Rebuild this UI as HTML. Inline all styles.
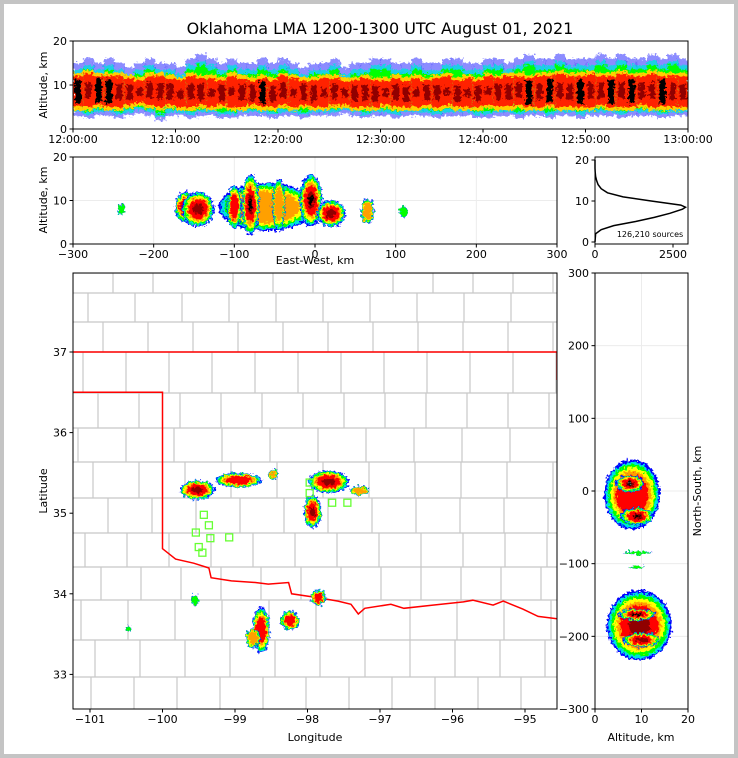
<!DOCTYPE html>
<html><head><meta charset="utf-8">
<style>
html,body{margin:0;padding:0;background:#fff;}
svg{display:block;font-family:"DejaVu Sans","Liberation Sans",sans-serif;}
</style></head>
<body>
<svg id="fig" width="738" height="758" viewBox="0 0 738 758" xmlns="http://www.w3.org/2000/svg">
<defs>
<filter id="grain" x="-20%" y="-20%" width="140%" height="140%">
<feTurbulence type="fractalNoise" baseFrequency="0.35" numOctaves="2" seed="3" result="n"/>
<feDisplacementMap in="SourceGraphic" in2="n" scale="7" xChannelSelector="R" yChannelSelector="G"/>
</filter>
</defs>
<rect x="0" y="0" width="738" height="758" fill="#c4c4c4"/>
<rect x="4" y="4" width="730" height="750" fill="#fff"/>
<text x="380" y="34" font-size="16" text-anchor="middle" fill="#000">Oklahoma LMA 1200-1300 UTC August 01, 2021</text>
<g id="gTop"></g>
<g id="gEW"></g>
<g id="gHist"></g>
<g id="gMap"></g>
<g id="gNS"></g>
</svg>
<script>
// ---------- DATA ----------
const timeTickLabels = ["12:00:00","12:10:00","12:20:00","12:30:00","12:40:00","12:50:00","13:00:00"];
const minuteLow  = [3,2.5,3,3,2.5,3,3.5,3,2,3,3,2.5,3,3,2.5,2.5,3,3,3,2.5,3,3,2.5,3,3,3,3.5,3,2.5,3,3,2.5,3,3,3,2.5,3,3,3,2.5,2.5,3,3,2.5,3,3,2.5,3,3,2.5,3,3,3,2.5,3,3,3,2.5,3,3];
const minuteHigh = [15,16,15,16,15,14,15,16,15,15,14,16,17,16,15,16,15,15,16,15,16,15,14,15,15,16,14,15,15,16,16,15,15,16,15,15,16,16,15,15,16,16,15,16,17,16,16,17,16,16,16,17,16,17,16,16,17,16,17,16];
const minuteCoreLow  = [5,5,5.5,5,5,5.5,6,5.5,5,5.5,5,5,5.5,5,5.5,5,5,5.5,5,5,5.5,5,5.5,5,5,5.5,5.5,5,5,5,5.5,5,5,5,5.5,5,5.5,5,5,5,5.5,5,5,5.5,5,5,5.5,5,5,5,5,5.5,5,5,5,5.5,5,5,5,5];
const minuteCoreHigh = [12,12.5,12,12,12,11.5,11,12,12,11.5,11,12,11.5,11.5,11,12,11.5,11,11.5,11,12,11.5,11,11,11.5,11.5,11,11,11.5,11,11,11.5,11,11.5,11,11.5,12,11,11.5,11,12,11.5,12,12,11.5,12,12,12.5,12,12,12.5,12,12,12.5,12,12,12.5,12,12,12];
const minuteIntensity = [3,2,3,3,2,2,1,2,2,2,1,2,2,1,2,1,2,2,3,2,2,1,2,2,1,2,1,2,2,2,1,2,2,1,2,2,1,2,1,2,1,2,2,2,3,2,3,2,2,3,2,2,3,2,3,2,2,3,2,2];

const ewCellX   = [-60,-160,-145,-100,-80,-45,-5,20,65,-240,110];
const ewCellZ   = [8.5,8.5,8,8.5,9,9,10,7,7.5,8,7.5];
const ewCellRX  = [60,14,20,9,11,8,14,18,8,4,5];
const ewCellRZ  = [5.5,3.5,4,5,7,6,6,3,3,1.3,1.5];
const ewCellLvl = [3,5,5,4,6,3,6,5,3,1,1];

const histAlt   = [0,2,3,4,5,6,7,8,8.5,9,10,11,12,13,14,15,16,17,18,20];
const histCount = [0,20,200,600,1300,1900,2400,2800,2900,2750,1800,900,400,200,100,50,20,5,0,0];
const histTotalLabel = "126,210 sources";

const lonTicks = [-101,-100,-99,-98,-97,-96,-95];
const latTicks = [37,36,35,34,33];
const cellLon = [-99.52,-98.95,-98.47,-97.71,-97.93,-97.28,-98.64,-98.24,-97.85,-99.55,-100.47,-98.75];
const cellLat = [35.29,35.41,35.48,35.39,35.02,35.28,33.55,33.67,33.95,33.92,33.57,33.45];
const cellRLon= [0.24,0.32,0.07,0.28,0.12,0.13,0.12,0.13,0.1,0.05,0.04,0.1];
const cellRLat= [0.12,0.09,0.06,0.14,0.2,0.06,0.28,0.12,0.1,0.07,0.04,0.12];
const cellLvl = [5,4,3,5,5,3,4,4,4,1,1,3];
const stationLon = [-99.43,-99.36,-99.54,-99.34,-99.08,-99.50,-99.45,-97.97,-97.97,-97.66,-97.45];
const stationLat = [34.98,34.85,34.76,34.69,34.70,34.58,34.51,35.38,35.25,35.13,35.13];
const borderLon = [-100,-99.82,-99.57,-99.36,-99.33,-99.05,-98.72,-98.54,-98.26,-98.22,-97.85,-97.58,-97.40,-97.30,-97.21,-96.85,-96.67,-96.27,-95.85,-95.72,-95.44,-95.30,-95.03,-94.82,-94.55];
const borderLat = [34.56,34.43,34.38,34.32,34.20,34.16,34.14,34.12,34.14,34.00,33.95,33.91,33.87,33.75,33.82,33.87,33.82,33.86,33.90,33.92,33.86,33.91,33.81,33.72,33.69];

const nsTicks = [300,200,100,0,-100,-200,-300];
const nsCellAlt = [8,7.5,9,9.5,9,10,9,9];
const nsCellNS  = [-5,10,-35,-185,-170,-205,-85,-105];
const nsCellRA  = [6,3,3.5,7,4,4,3,1.5];
const nsCellRN  = [48,12,12,48,8,10,2,2];
const nsCellLvl = [4,7,6,5,6,5,1,1];

// ---------- HELPERS ----------
const NS='http://www.w3.org/2000/svg';
function mk(tag,attrs,parent){const e=document.createElementNS(NS,tag);for(const k in attrs)e.setAttribute(k,attrs[k]);parent.appendChild(e);return e;}
function blob(g,cx,cy,rx,ry,lvl){
  const layers=[['#0000ff',1],['#00e0e0',0.94],['#00ff00',0.87],['#ffff00',0.78],['#ffa000',0.68],['#ff0000',0.58],['#900000',0.32],['#000000',0.2],['#a0a0a0',0.1]];
  const n=Math.min(layers.length,2+lvl);
  for(let i=0;i<n;i++){
    const el=mk('ellipse',{cx:cx,cy:cy,rx:Math.max(0.8,rx*layers[i][1]),ry:Math.max(0.8,ry*layers[i][1]),fill:layers[i][0]},g);
    
    
  }
}
function frame(g,x,y,w,h,name){
  const r=mk('rect',{x:x,y:y,width:w,height:h,fill:'none',stroke:'#000','stroke-width':1},g);
  
  
}
function txt(g,x,y,s,anchor,size,name,rot){
  const t=mk('text',{x:x,y:y,'font-size':size||11,'text-anchor':anchor||'middle',fill:'#000'},g);
  if(rot)t.setAttribute('transform','rotate(-90 '+x+' '+y+')');
  t.textContent=s;
  
  
  return t;
}
function line(g,x1,y1,x2,y2,stroke,w,name){
  const l=mk('line',{x1:x1,y1:y1,x2:x2,y2:y2,stroke:stroke,'stroke-width':w},g);
  
  
}

// ---------- TOP: time-height ----------
(function(){
  const g=document.getElementById('gTop');
  const X0=73,X1=688,Y0=41,Y1=129;
  const xs=i=>X0+(X1-X0)*i/60, ys=z=>Y1-(z/20)*(Y1-Y0);
  const cw=(X1-X0)/60;
  const clip=mk('clipPath',{id:'topclip'},g);mk('rect',{x:X0,y:Y0,width:X1-X0,height:Y1-Y0},clip);
  const outer=mk('g',{'clip-path':'url(#topclip)'},g);
  const dg=mk('g',{filter:'url(#grain)'},outer);
  for(let i=0;i<60;i++){
    const x=xs(i);
    const rows=[[minuteLow[i],minuteHigh[i],'#0000ff',0.45],[minuteLow[i]+0.8,minuteHigh[i]-1.5,'#00e0e0',0.8],[minuteLow[i]+1.5,minuteHigh[i]-2.5,'#00ff00',1],[minuteCoreLow[i]-0.8,minuteCoreHigh[i]+0.8,'#ffd000',1],[minuteCoreLow[i],minuteCoreHigh[i],'#ff2000',1]];
    rows.forEach(r=>{const e=mk('rect',{x:x,y:ys(r[1]),width:cw+0.3,height:ys(r[0])-ys(r[1]),fill:r[2],'fill-opacity':r[3]},dg);
      
      });
    const mid=(minuteCoreLow[i]+minuteCoreHigh[i])/2, hh=minuteIntensity[i]*0.9;
    const c=mk('rect',{x:x+cw*0.2,y:ys(mid+hh),width:cw*0.6,height:ys(mid-hh)-ys(mid+hh),fill:minuteIntensity[i]>2?'#000':'#900000'},dg);
    
    
  }
  frame(g,X0,Y0,X1-X0,Y1-Y0,'time-height-axes');
  [0,10,20].forEach(v=>{line(g,X0-3.5,ys(v),X0,ys(v),'#000',1,'y-tick');txt(g,X0-6,ys(v)+4,String(v),'end',11,'y-tick-label');});
  timeTickLabels.forEach((s,i)=>{const x=X0+(X1-X0)*i/(timeTickLabels.length-1);line(g,x,Y1,x,Y1+3.5,'#000',1,'x-tick');txt(g,x,Y1+14,s,'middle',11,'x-tick-label');});
  txt(g,47,85,'Altitude, km','middle',11,'y-axis-title',true);
})();

// ---------- MIDDLE: east-west ----------
(function(){
  const g=document.getElementById('gEW');
  const X0=73,X1=557,Y0=157,Y1=244;
  const xs=k=>X0+(k+300)/600*(X1-X0), ys=z=>Y1-(z/20)*(Y1-Y0);
  [-200,-100,0,100,200].forEach(v=>line(g,xs(v),Y0,xs(v),Y1,'#ececec',1,'grid-line'));
  line(g,X0,ys(10),X1,ys(10),'#ececec',1,'grid-line');
  const dg=mk('g',{filter:'url(#grain)'},g);
  ewCellX.forEach((_,i)=>blob(dg,xs(ewCellX[i]),ys(ewCellZ[i]),ewCellRX[i]*(X1-X0)/600,ewCellRZ[i]*(Y1-Y0)/20,ewCellLvl[i]));
  frame(g,X0,Y0,X1-X0,Y1-Y0,'east-west-axes');
  [0,10,20].forEach(v=>{line(g,X0-3.5,ys(v),X0,ys(v),'#000',1,'y-tick');txt(g,X0-6,ys(v)+4,String(v),'end',11,'y-tick-label');});
  [-300,-200,-100,0,100,200,300].forEach(v=>{line(g,xs(v),Y1,xs(v),Y1+3.5,'#000',1,'x-tick');txt(g,xs(v),Y1+14,String(v).replace('-','\u2212'),'middle',11,'x-tick-label');});
  txt(g,315,264,'East-West, km','middle',11,'x-axis-title');
  txt(g,47,200,'Altitude, km','middle',11,'y-axis-title',true);
})();

// ---------- HISTOGRAM ----------
(function(){
  const g=document.getElementById('gHist');
  const X0=595,X1=688,Y0=157,Y1=244;
  const xs=c=>X0+c/2500*78, ys=z=>242-z*4.1;
  let d='';histAlt.forEach((a,i)=>{d+=(i?'L':'M')+xs(histCount[i]).toFixed(1)+' '+ys(a).toFixed(1);});
  const p=mk('path',{d:d,fill:'none',stroke:'#000','stroke-width':1.5},g);
  
  
  frame(g,X0,Y0,X1-X0,Y1-Y0,'histogram-axes');
  [0,10,20].forEach(v=>{line(g,X0-3.5,ys(v),X0,ys(v),'#000',1,'y-tick');txt(g,X0-6,ys(v)+4,String(v),'end',11,'y-tick-label');});
  [0,2500].forEach(v=>{line(g,xs(v),Y1,xs(v),Y1+3.5,'#000',1,'x-tick');txt(g,xs(v),Y1+14,String(v),'middle',11,'x-tick-label');});
  txt(g,650,237,histTotalLabel,'middle',8,'source-count-label');
})();

// ---------- MAP ----------
(function(){
  const g=document.getElementById('gMap');
  const X0=73,X1=557,Y0=273,Y1=709;
  const xs=lon=>90+(lon+101)*72.5, ys=lat=>352+(37-lat)*80.6;
  const clip=mk('clipPath',{id:'mapclip'},g);mk('rect',{x:X0,y:Y0,width:X1-X0,height:Y1-Y0},clip);
  const cg=mk('g',{'clip-path':'url(#mapclip)'},g);
  
  
  const rowsY=[273,293,322,352,393,428,462,498,533,567,600,640,677,709];
  const offs=[0,15,30,10,25,5,20,35,12,28,8,22,18];
  for(let r=0;r<rowsY.length-1;r++){
    line(cg,X0,rowsY[r],X1,rowsY[r],'#c8c8c8',1.2,'county-line');
    for(let x=X0+offs[r];x<X1;x+=40+((r*7)%9)){line(cg,x,rowsY[r],x,rowsY[r+1],'#c8c8c8',1.2,'county-line');}
  }
  let d='M'+X0+' '+ys(36.5)+' L'+xs(-100)+' '+ys(36.5);
  borderLon.forEach((lo,i)=>{d+=' L'+xs(lo).toFixed(1)+' '+ys(borderLat[i]).toFixed(1);});
  const sb=mk('path',{d:d,fill:'none',stroke:'#ff0000','stroke-width':1.5},cg);
  
  
  const nb=mk('path',{d:'M'+X0+' '+ys(37)+' L'+X1+' '+ys(37)+' L'+X1+' '+(ys(37)+28),fill:'none',stroke:'#ff0000','stroke-width':1.5},cg);
  
  
  const dg=mk('g',{filter:'url(#grain)'},cg);
  cellLon.forEach((_,i)=>blob(dg,xs(cellLon[i]),ys(cellLat[i]),cellRLon[i]*72.5,cellRLat[i]*80.6,cellLvl[i]));
  stationLon.forEach((lo,i)=>{const s=mk('rect',{x:xs(lo)-3.5,y:ys(stationLat[i])-3.5,width:7,height:7,fill:'none',stroke:'#66ff33','stroke-width':1.3},cg);
    
    });
  frame(g,X0,Y0,X1-X0,Y1-Y0,'map-axes');
  latTicks.forEach(v=>{line(g,X0-3.5,ys(v),X0,ys(v),'#000',1,'y-tick');txt(g,X0-6,ys(v)+4,String(v),'end',11,'lat-tick-label');});
  lonTicks.forEach(v=>{line(g,xs(v),Y1,xs(v),Y1+3.5,'#000',1,'x-tick');txt(g,xs(v),Y1+14,String(v).replace('-','\u2212'),'middle',11,'lon-tick-label');});
  txt(g,315,741,'Longitude','middle',11,'x-axis-title');
  txt(g,47,491,'Latitude','middle',11,'y-axis-title',true);
})();

// ---------- NORTH-SOUTH ----------
(function(){
  const g=document.getElementById('gNS');
  const X0=595,X1=688,Y0=273,Y1=709;
  const xs=a=>X0+a/20*(X1-X0), ys=n=>491-n*0.7267;
  nsTicks.forEach(v=>line(g,X0,ys(v),X1,ys(v),'#ececec',1,'grid-line'));
  line(g,xs(10),Y0,xs(10),Y1,'#ececec',1,'grid-line');
  const dg=mk('g',{filter:'url(#grain)'},g);
  nsCellAlt.forEach((_,i)=>blob(dg,xs(nsCellAlt[i]),ys(nsCellNS[i]),nsCellRA[i]*(X1-X0)/20,nsCellRN[i]*0.7267,nsCellLvl[i]));
  frame(g,X0,Y0,X1-X0,Y1-Y0,'north-south-axes');
  nsTicks.forEach(v=>{line(g,X0-3.5,ys(v),X0,ys(v),'#000',1,'y-tick');txt(g,X0-6,ys(v)+4,String(v).replace('-','\u2212'),'end',11,'y-tick-label');});
  [0,10,20].forEach(v=>{line(g,xs(v),Y1,xs(v),Y1+3.5,'#000',1,'x-tick');txt(g,xs(v),Y1+14,String(v),'middle',11,'x-tick-label');});
  txt(g,641,741,'Altitude, km','middle',11,'x-axis-title');
  txt(g,701,491,'North-South, km','middle',11,'y-axis-title',true);
})();
</script>
</body></html>
